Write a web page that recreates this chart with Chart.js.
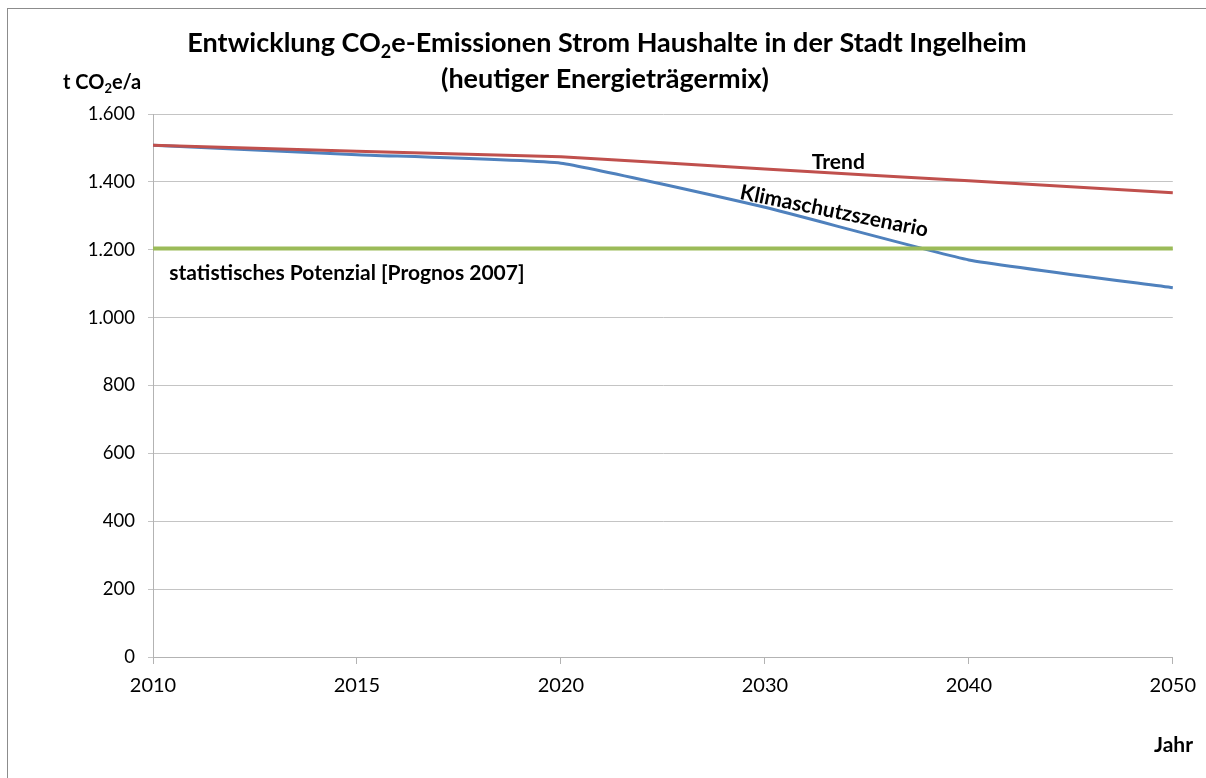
<!DOCTYPE html>
<html>
<head>
<meta charset="utf-8">
<script src="https://cdn.jsdelivr.net/npm/chart.js@4/dist/chart.umd.min.js"></script>
<style>
  body { margin: 0; background: #fff; }
  canvas { display: block; }
</style>
</head>
<body>
<canvas id="myChart" width="1206" height="778"></canvas>
<script>
const years = ['2010', '2015', '2020', '2030', '2040', '2050']
const trend = [1508, 1490, 1474, 1438, 1403, 1368]
const klimaschutz = [1508, 1480, 1455, 1325, 1170, 1088]
const potenzial = [1204, 1204, 1204, 1204, 1204, 1204]
const yTickLabels = ['0', '200', '400', '600', '800', '1.000', '1.200', '1.400', '1.600']

const FONT = 'Lato, Carlito, "Open Sans", sans-serif'

// draw a run of text pieces, some of them as subscript
function drawRich(ctx, parts, x, y, size, align) {
  const subSize = Math.round(size * 0.65)
  let total = 0
  parts.forEach(p => {
    ctx.font = 'bold ' + (p.sub ? subSize : size) + 'px ' + FONT
    p.w = ctx.measureText(p.t).width
    total += p.w
  })
  let cx = align === 'center' ? x - total / 2 : align === 'right' ? x - total : x
  ctx.textAlign = 'left'
  ctx.textBaseline = 'alphabetic'
  parts.forEach(p => {
    ctx.font = 'bold ' + (p.sub ? subSize : size) + 'px ' + FONT
    ctx.fillText(p.t, cx, p.sub ? y + size * 0.22 : y)
    cx += p.w
  })
}

const textPlugin = {
  id: 'texts',
  afterDraw(chart) {
    const ctx = chart.ctx
    const xs = chart.scales.x
    const ys = chart.scales.y
    const px = i => {
      const a = Math.floor(i), f = i - a
      const p0 = xs.getPixelForValue(a)
      return f ? p0 + f * (xs.getPixelForValue(a + 1) - p0) : p0
    }
    ctx.save()
    // outer frame
    ctx.strokeStyle = '#8c8c8c'
    ctx.lineWidth = 1
    ctx.strokeRect(7.5, 8.5, 1400, 1000)

    ctx.fillStyle = '#000'
    drawRich(ctx, [{ t: 'Entwicklung CO' }, { t: '2', sub: true }, { t: 'e-Emissionen Strom Haushalte in der Stadt Ingelheim' }], 607, 52, 27, 'center')
    drawRich(ctx, [{ t: '(heutiger Energieträgermix)' }], 605, 88, 27, 'center')
    drawRich(ctx, [{ t: 't CO' }, { t: '2', sub: true }, { t: 'e/a' }], 63, 89, 20, 'left')
    drawRich(ctx, [{ t: 'Jahr' }], 1193, 752, 21, 'right')

    drawRich(ctx, [{ t: 'Trend' }], px(3.36), ys.getPixelForValue(1458) + 7, 21, 'center')
    drawRich(ctx, [{ t: 'statistisches Potenzial [Prognos 2007]' }], px(0.08), ys.getPixelForValue(1131) + 7, 21, 'left')

    ctx.save()
    ctx.translate(px(3.34), ys.getPixelForValue(1314))
    ctx.rotate(11.5 * Math.PI / 180)
    drawRich(ctx, [{ t: 'Klimaschutzszenario' }], 0, 7, 21, 'center')
    ctx.restore()
    ctx.restore()
  }
}

new Chart(document.getElementById('myChart'), {
  type: 'line',
  data: {
    labels: years,
    datasets: [
      {
        label: 'statistisches Potenzial [Prognos 2007]',
        data: potenzial,
        borderColor: '#9BBB59',
        borderWidth: 4,
        pointRadius: 0,
        tension: 0,
      },
      {
        label: 'Trend',
        data: trend,
        borderColor: '#C0504D',
        borderWidth: 3,
        pointRadius: 0,
        tension: 0.1,
      },
      {
        label: 'Klimaschutzszenario',
        data: klimaschutz,
        borderColor: '#4F81BD',
        borderWidth: 3,
        pointRadius: 0,
        tension: 0.12,
      },
    ],
  },
  options: {
    responsive: false,
    animation: false,
    layout: { padding: { left: 0, right: 33, top: 114, bottom: 71 } },
    plugins: {
      legend: { display: false },
      title: { display: false },
      tooltip: { enabled: false },
    },
    scales: {
      x: {
        offset: false,
        afterFit: s => { s.height = 50 },
        grid: { drawOnChartArea: false, drawTicks: true, tickLength: 7, color: '#b3b3b3' },
        border: { color: '#b3b3b3' },
        ticks: { color: '#000', font: { family: FONT, size: 20 }, padding: 10, maxRotation: 0 },
      },
      y: {
        min: 0,
        max: 1600,
        afterFit: s => { s.width = 153 },
        afterBuildTicks: s => { s.ticks = yTickLabels.map((_, i) => ({ value: i * 200 })) },
        grid: { color: '#c4c4c4', tickLength: 5 },
        border: { color: '#b3b3b3' },
        ticks: {
          color: '#000',
          font: { family: FONT, size: 18.5 },
          padding: 13,
          callback: (v, i) => yTickLabels[i],
        },
      },
    },
  },
  plugins: [textPlugin],
})
</script>
</body>
</html>
